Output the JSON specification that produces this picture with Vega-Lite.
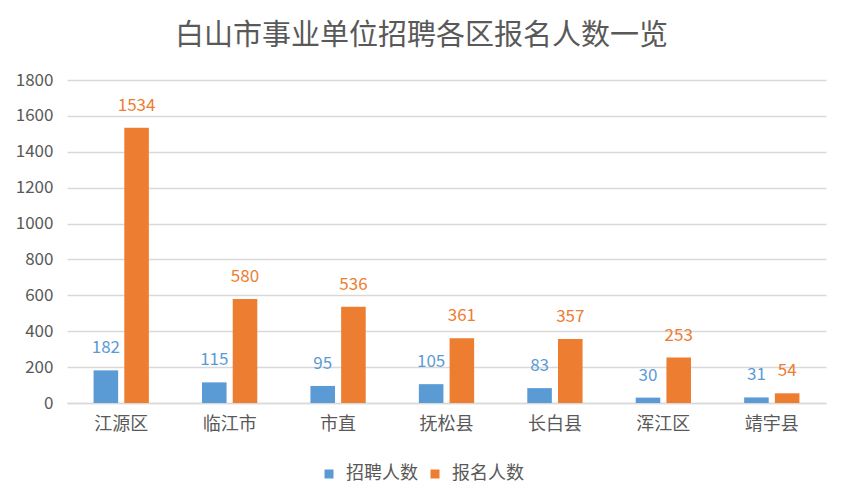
{
  "$schema": "https://vega.github.io/schema/vega-lite/v6.json",
  "width": 759,
  "height": 323,
  "autosize": "none",
  "padding": {"left": 67, "top": 80, "right": 17, "bottom": 99},
  "background": "#ffffff",
  "title": {
    "text": "白山市事业单位招聘各区报名人数一览",
    "fontSize": 29,
    "font": "Noto Sans CJK SC",
    "fontWeight": "normal",
    "color": "#595959",
    "anchor": "middle",
    "dx": -25,
    "offset": 20
  },
  "data": {
    "values": [
      {"区": "江源区", "类别": "招聘人数", "人数": 182},
      {"区": "江源区", "类别": "报名人数", "人数": 1534},
      {"区": "临江市", "类别": "招聘人数", "人数": 115},
      {"区": "临江市", "类别": "报名人数", "人数": 580},
      {"区": "市直", "类别": "招聘人数", "人数": 95},
      {"区": "市直", "类别": "报名人数", "人数": 536},
      {"区": "抚松县", "类别": "招聘人数", "人数": 105},
      {"区": "抚松县", "类别": "报名人数", "人数": 361},
      {"区": "长白县", "类别": "招聘人数", "人数": 83},
      {"区": "长白县", "类别": "报名人数", "人数": 357},
      {"区": "浑江区", "类别": "招聘人数", "人数": 30},
      {"区": "浑江区", "类别": "报名人数", "人数": 253},
      {"区": "靖宇县", "类别": "招聘人数", "人数": 31},
      {"区": "靖宇县", "类别": "报名人数", "人数": 54}
    ]
  },
  "encoding": {
    "x": {
      "field": "区",
      "type": "nominal",
      "sort": null,
      "scale": {"paddingInner": 0.49, "paddingOuter": 0.245},
      "axis": {
        "title": null,
        "labelAngle": 0,
        "labelFontSize": 18,
        "labelFont": "Noto Sans CJK SC",
        "labelColor": "#595959",
        "labelPadding": 12,
        "ticks": false,
        "domainColor": "#d9d9d9",
        "domainWidth": 1.5
      }
    },
    "xOffset": {
      "field": "类别",
      "type": "nominal",
      "sort": ["招聘人数", "报名人数"],
      "scale": {"paddingInner": 0.2}
    },
    "y": {
      "field": "人数",
      "type": "quantitative",
      "scale": {"domain": [0, 1800], "nice": false},
      "axis": {
        "title": null,
        "values": [0, 200, 400, 600, 800, 1000, 1200, 1400, 1600, 1800],
        "format": "d",
        "labelFontSize": 17,
        "labelFont": "Noto Sans CJK SC",
        "labelColor": "#595959",
        "labelPadding": 14,
        "ticks": false,
        "domain": false,
        "gridColor": "#d9d9d9",
        "gridWidth": 1.5
      }
    },
    "color": {
      "field": "类别",
      "type": "nominal",
      "sort": ["招聘人数", "报名人数"],
      "scale": {"domain": ["招聘人数", "报名人数"], "range": ["#5B9BD5", "#ED7D31"]},
      "legend": {
        "title": null,
        "orient": "none",
        "direction": "horizontal",
        "legendX": 253,
        "legendY": 385,
        "symbolType": "square",
        "symbolSize": 81,
        "symbolStrokeWidth": 0,
        "labelFontSize": 18,
        "labelFont": "Noto Sans CJK SC",
        "labelColor": "#595959",
        "labelOffset": 8,
        "columnPadding": 8
      }
    }
  },
  "layer": [
    {"mark": {"type": "bar"}},
    {
      "mark": {"type": "text", "baseline": "middle", "dy": -22, "fontSize": 17, "font": "Noto Sans CJK SC"},
      "encoding": {"text": {"field": "人数", "type": "quantitative"}}
    }
  ],
  "config": {"view": {"stroke": null}}
}
